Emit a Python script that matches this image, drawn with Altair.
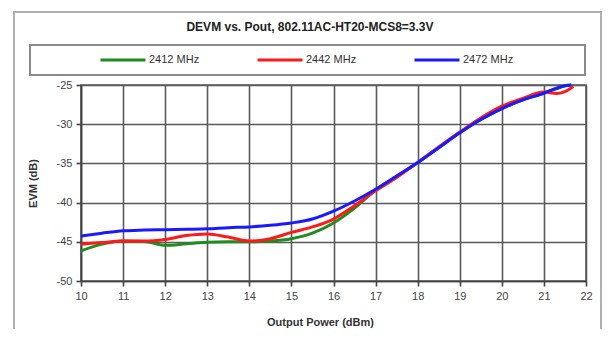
import altair as alt
import pandas as pd

power = [10, 10.5, 11, 11.5, 12, 12.5, 13, 13.5, 14, 14.5, 15, 15.5, 16, 16.5,
         17, 17.5, 18, 18.5, 19, 19.5, 20, 20.5, 21, 21.3, 21.5, 21.65]
evm_2412 = [-46.15, -45.3, -44.9, -44.95, -45.45, -45.25, -45.05, -45.0, -45.0, -44.9,
            -44.6, -43.9, -42.6, -40.7, -38.4, -36.7, -34.9, -33.0, -31.1, -29.4,
            -28.0, -26.9, -26.0, -25.5, -25.1, -25.0]
evm_2442 = [-45.3, -45.1, -44.9, -44.9, -44.7, -44.2, -44.0, -44.4, -44.9, -44.6,
            -43.8, -43.1, -42.1, -40.4, -38.5, -36.8, -34.9, -32.9, -31.0, -29.2,
            -27.7, -26.7, -25.9, -26.1, -25.85, -25.2]
evm_2472 = [-44.25, -43.9, -43.6, -43.5, -43.45, -43.4, -43.35, -43.2, -43.1, -42.9,
            -42.6, -42.1, -41.1, -39.8, -38.3, -36.6, -34.9, -33.0, -31.1, -29.4,
            -28.0, -26.9, -26.05, -25.4, -25.1, -25.0]
series = ["2412 MHz", "2442 MHz", "2472 MHz"]
colors = ["#1e8c1e", "#ff1a1a", "#1a1aff"]
x_ticks = list(range(10, 23))
y_ticks = [-50, -45, -40, -35, -30, -25]
title_text = "DEVM  vs. Pout, 802.11AC-HT20-MCS8=3.3V"

rows = []
for name, vals in zip(series, [evm_2412, evm_2442, evm_2472]):
    x_end = 21.7 if name == "2442 MHz" else 21.65
    for i, (p, v) in enumerate(zip(power, vals)):
        px = p if i < len(power) - 1 else x_end
        rows.append({"power": px, "evm": v, "freq": name})
df = pd.DataFrame(rows)

FONT = "Liberation Sans"

lines = alt.Chart(df).mark_line(strokeWidth=3, interpolate="monotone").encode(
    x=alt.X("power:Q", scale=alt.Scale(domain=[10, 22], nice=False),
            axis=alt.Axis(values=x_ticks, title="Output Power (dBm)", titleX=239,
                          titleY=41, titleBaseline="middle", labelFlush=False,
                          labelExpr="toString(datum.value)")),
    y=alt.Y("evm:Q", scale=alt.Scale(domain=[-50, -25], nice=False),
            axis=alt.Axis(values=y_ticks, title="EVM (dB)", titleX=-48, titleY=98,
                          titleAngle=-90, titleAlign="center", titleBaseline="middle",
                          labelExpr="toString(datum.value)")),
    color=alt.Color("freq:N", scale=alt.Scale(domain=series, range=colors),
                    legend=alt.Legend(title=None, orient="none", legendX=18, legendY=-49,
                                      direction="horizontal", columns=3, columnPadding=51,
                                      symbolType="stroke", symbolStrokeWidth=3,
                                      symbolSize=2025, labelFontSize=11, labelOffset=2,
                                      labelFont=FONT, labelColor="#333333")),
)

frame_data = alt.Data(values=[{"k": 1}])
outer = alt.Chart(frame_data).mark_rect(fillOpacity=0, stroke="#b0b0b0", strokeWidth=2).encode(
    x=alt.value(-67), x2=alt.value(520), y=alt.value(-73), y2=alt.value(280))
legend_box = alt.Chart(frame_data).mark_rect(fillOpacity=0, stroke="#8a8a8a", strokeWidth=2).encode(
    x=alt.value(-51), x2=alt.value(504), y=alt.value(-40), y2=alt.value(-10))
title = alt.Chart(frame_data).mark_text(
    text=title_text, font=FONT, fontSize=12, fontWeight="bold", color="#222222",
    align="center", baseline="middle").encode(x=alt.value(229), y=alt.value(-58))

chart = alt.layer(outer, legend_box, title, lines).properties(
    width=505, height=196,
    autosize=alt.AutoSizeParams(type="none"),
    padding={"left": 73, "top": 77, "right": 17, "bottom": 48},
).configure_axis(
    grid=True, gridColor="#5a5a5a", gridWidth=1.6, gridOpacity=1,
    domainColor="#444444", domainWidth=1.6, tickColor="#444444", tickWidth=1.6, tickSize=5,
    labelFont=FONT, labelFontSize=11, labelColor="#444444", labelPadding=4,
    titleFont=FONT, titleFontSize=11, titleFontWeight="bold", titleColor="#333333",
).configure_view(stroke="#5a5a5a", strokeWidth=1.6)

chart.save("out.html", embed_options={"renderer": "svg", "actions": False})
